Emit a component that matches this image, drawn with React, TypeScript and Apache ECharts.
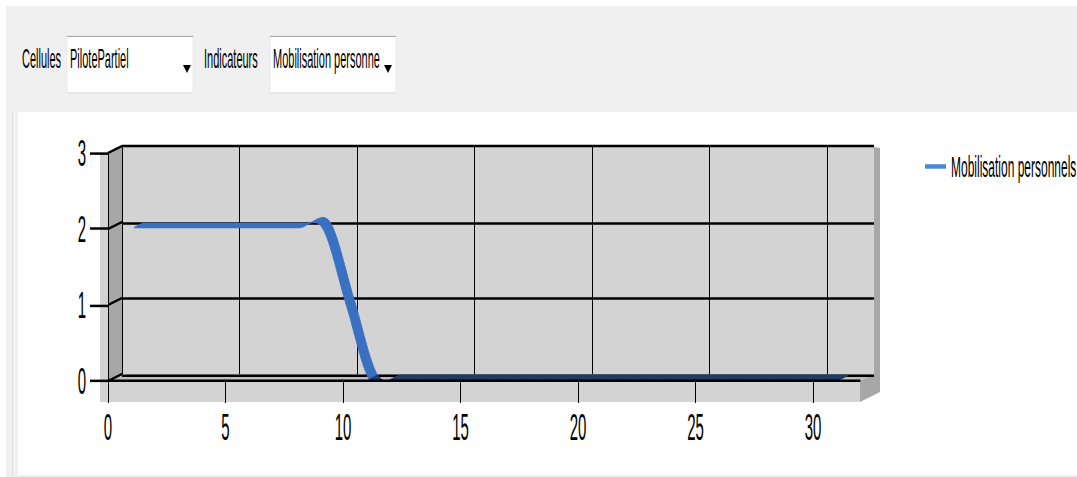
import React, { useEffect, useRef } from 'react';
import * as echarts from 'echarts';

// The reference is vertically stretched: the chart is drawn at a base height
// and scaled on Y so text and horizontal strokes match.
const BASE_H = 191;
const S = 477 / BASE_H;
const yb = (v: number) => v / S;
const FONT = '"Liberation Sans", Arial, sans-serif';

// ---- data ----
const dayNumbers = [1, 2, 3, 4, 5, 6, 7, 8, 9, 10, 11, 12, 13, 14, 15, 16, 17, 18, 19, 20, 21, 22, 23, 24, 25, 26, 27, 28, 29, 30, 31];
const mobilisation = [2, 2, 2, 2, 2, 2, 2, 2, 2, 1, 0, 0, 0, 0, 0, 0, 0, 0, 0, 0, 0, 0, 0, 0, 0, 0, 0, 0, 0, 0, 0];
const xTickValues = [0, 5, 10, 15, 20, 25, 30];
const yTickValues = [0, 1, 2, 3];
const X_MIN = 0;
const X_MAX = 32;
const Y_MIN = 0;
const Y_MAX = 3;
const seriesName = 'Mobilisation personnels';
const cellulesLabel = 'Cellules';
const cellulesValue = 'PilotePartiel';
const indicateursLabel = 'Indicateurs';
const indicateursValue = 'Mobilisation personne';

// ---- layout (actual pixels) ----
const FRONT_LEFT = 108;
const FRONT_W = 752;
const FRONT_TOP = 153;
const FRONT_BOTTOM = 381;
const DEPTH_X = 14;
const DEPTH_Y = 7;
const yFront = (v: number) => FRONT_BOTTOM - ((v - Y_MIN) / (Y_MAX - Y_MIN)) * (FRONT_BOTTOM - FRONT_TOP);

const LINE_COLOR = '#3a70c2';
const FLOOR_LINE_COLOR = '#1f3c66';
const LEGEND_COLOR = '#4a86e0';
const RIBBON_T1 = 0.2;
const RIBBON_T2 = 0.8;
const STEPS = 12;

const pts = (arr: number[][]) => arr.map(([x, y]) => [x, yb(y)]);

function renderRibbon(params: any, api: any) {
  const n = params.dataInsideLength;
  const i = params.dataIndexInside;
  if (i >= n - 1) return null;
  const pt = (j: number) => {
    const k = Math.max(0, Math.min(n - 1, j));
    return api.coord([api.value(0, k), api.value(1, k)]);
  };
  const p0 = pt(i - 1);
  const p1 = pt(i);
  const p2 = pt(i + 1);
  const p3 = pt(i + 2);
  const m1 = [(p2[0] - p0[0]) / 2, (p2[1] - p0[1]) / 2];
  const m2 = [(p3[0] - p1[0]) / 2, (p3[1] - p1[1]) / 2];
  const curve: number[][] = [];
  for (let s = 0; s <= STEPS; s++) {
    const t = s / STEPS;
    const t2 = t * t;
    const t3 = t2 * t;
    const h00 = 2 * t3 - 3 * t2 + 1;
    const h10 = t3 - 2 * t2 + t;
    const h01 = -2 * t3 + 3 * t2;
    const h11 = t3 - t2;
    curve.push([
      h00 * p1[0] + h10 * m1[0] + h01 * p2[0] + h11 * m2[0],
      h00 * p1[1] + h10 * m1[1] + h01 * p2[1] + h11 * m2[1],
    ]);
  }
  const ax = DEPTH_X * RIBBON_T1;
  const ay = -yb(DEPTH_Y * RIBBON_T1);
  const bx = DEPTH_X * RIBBON_T2;
  const by = -yb(DEPTH_Y * RIBBON_T2);
  const front = curve.map((c) => [c[0] + ax, c[1] + ay]);
  const back = curve.map((c) => [c[0] + bx, c[1] + by]).reverse();
  const onFloor = api.value(1, i) === 0 && api.value(1, i + 1) === 0;
  const color = onFloor ? FLOOR_LINE_COLOR : LINE_COLOR;
  return {
    type: 'polygon',
    shape: { points: front.concat(back) },
    style: { fill: color, stroke: color, lineWidth: 0.6 },
  };
}

function buildGraphic() {
  const els: any[] = [];
  // window frame
  els.push({ type: 'rect', z: 0, silent: true, shape: { x: 6, y: yb(6), width: 12, height: yb(471) }, style: { fill: '#f0f0f0' } });
  els.push({ type: 'line', z: 0, silent: true, shape: { x1: 12.5, y1: yb(6), x2: 12.5, y2: yb(477) }, style: { stroke: '#dedede', lineWidth: 1 } });
  els.push({ type: 'rect', z: 0, silent: true, shape: { x: 6, y: yb(6), width: 1071, height: yb(106) }, style: { fill: '#f0f0f0' } });
  els.push({ type: 'rect', z: 0, silent: true, shape: { x: 6, y: yb(475), width: 1071, height: yb(2) }, style: { fill: '#f0f0f0' } });

  // combo boxes
  const combo = (x: number, w: number, value: string, arrowX: number) => {
    els.push({ type: 'rect', z: 1, silent: true, shape: { x, y: yb(36), width: w, height: yb(57) }, style: { fill: '#ffffff', stroke: '#e2e2e2', lineWidth: 0.6 } });
    els.push({ type: 'line', z: 1, silent: true, shape: { x1: x, y1: yb(36.5), x2: x + w, y2: yb(36.5) }, style: { stroke: '#a9a9a9', lineWidth: 0.5 } });
    els.push({ type: 'text', z: 2, silent: true, x: x + 3, y: yb(58), style: { text: value, fontSize: 11, fontFamily: FONT, fill: '#000', verticalAlign: 'middle', align: 'left' } });
    els.push({ type: 'polygon', z: 2, silent: true, shape: { points: pts([[arrowX - 4, 65], [arrowX + 4, 65], [arrowX, 73]]) }, style: { fill: '#000' } });
  };
  els.push({ type: 'text', z: 2, silent: true, x: 22, y: yb(58), style: { text: cellulesLabel, fontSize: 11, fontFamily: FONT, fill: '#000', verticalAlign: 'middle', align: 'left' } });
  combo(67, 126, cellulesValue, 187);
  els.push({ type: 'text', z: 2, silent: true, x: 204, y: yb(58), style: { text: indicateursLabel, fontSize: 11, fontFamily: FONT, fill: '#000', verticalAlign: 'middle', align: 'left' } });
  combo(270, 126, indicateursValue, 388);

  // 3D plot box
  const backLeft = FRONT_LEFT + DEPTH_X;
  const backRight = FRONT_LEFT + FRONT_W + DEPTH_X;
  const frontRight = FRONT_LEFT + FRONT_W;
  els.push({ type: 'rect', z: 1, silent: true, shape: { x: 100, y: yb(FRONT_TOP), width: frontRight - 100, height: yb(402 - FRONT_TOP) }, style: { fill: '#d3d3d3' } });
  els.push({ type: 'rect', z: 1, silent: true, shape: { x: backLeft, y: yb(FRONT_TOP - DEPTH_Y), width: FRONT_W, height: yb(FRONT_BOTTOM - FRONT_TOP) }, style: { fill: '#d3d3d3' } });
  // left wall
  els.push({ type: 'polygon', z: 1, silent: true, shape: { points: pts([[FRONT_LEFT, FRONT_TOP], [backLeft, FRONT_TOP - DEPTH_Y], [backLeft, FRONT_BOTTOM - DEPTH_Y], [FRONT_LEFT, FRONT_BOTTOM]]) }, style: { fill: '#a7a7a7' } });
  // floor
  els.push({ type: 'polygon', z: 1, silent: true, shape: { points: pts([[FRONT_LEFT, FRONT_BOTTOM], [backLeft, FRONT_BOTTOM - DEPTH_Y], [backRight, FRONT_BOTTOM - DEPTH_Y], [frontRight, FRONT_BOTTOM]]) }, style: { fill: '#bdbdbd' } });
  // right side
  els.push({ type: 'polygon', z: 1, silent: true, shape: { points: pts([[backRight, FRONT_TOP - DEPTH_Y + 1], [backRight + 6, FRONT_TOP - DEPTH_Y + 2], [backRight + 6, 392], [frontRight, 402], [frontRight, FRONT_BOTTOM], [backRight, FRONT_BOTTOM - DEPTH_Y]]) }, style: { fill: '#a7a7a7' } });
  // tick connectors across the left wall
  yTickValues.forEach((v) => {
    els.push({ type: 'line', z: 6, silent: true, shape: { x1: FRONT_LEFT, y1: yb(yFront(v)), x2: backLeft, y2: yb(yFront(v) - DEPTH_Y) }, style: { stroke: '#000', lineWidth: 1 } });
  });
  return els;
}

const axisCommon = { type: 'value' as const };

const option: any = {
  animation: false,
  backgroundColor: '#ffffff',
  textStyle: { fontFamily: FONT },
  grid: [
    { left: FRONT_LEFT, top: yb(FRONT_TOP), width: FRONT_W, height: yb(FRONT_BOTTOM - FRONT_TOP), show: false },
    { left: FRONT_LEFT + DEPTH_X, top: yb(FRONT_TOP - DEPTH_Y), width: FRONT_W, height: yb(FRONT_BOTTOM - FRONT_TOP), show: false },
  ],
  xAxis: [
    {
      ...axisCommon, gridIndex: 0, min: X_MIN, max: X_MAX, interval: 5, z: 5,
      axisLine: { show: true, onZero: false, lineStyle: { color: '#000', width: 1 } },
      axisTick: { show: true, length: yb(22), lineStyle: { color: '#000', width: 1 }, customValues: xTickValues },
      axisLabel: { show: true, margin: 11, fontSize: 15, color: '#000', fontFamily: FONT, customValues: xTickValues },
      splitLine: { show: false },
    },
    {
      ...axisCommon, gridIndex: 1, min: X_MIN, max: X_MAX, interval: 5, z: 2,
      axisLine: { show: false }, axisTick: { show: false }, axisLabel: { show: false },
      splitLine: { show: true, showMaxLine: false, lineStyle: { color: '#000', width: 1 } },
    },
  ],
  yAxis: [
    {
      ...axisCommon, gridIndex: 0, min: Y_MIN, max: Y_MAX, interval: 1, z: 5,
      axisLine: { show: true, onZero: false, lineStyle: { color: '#000', width: 1 } },
      axisTick: { show: true, length: 18, lineStyle: { color: '#000', width: 1 } },
      axisLabel: { show: true, margin: 22, fontSize: 15, color: '#000', fontFamily: FONT },
      splitLine: { show: false },
    },
    {
      ...axisCommon, gridIndex: 1, min: Y_MIN, max: Y_MAX, interval: 1, z: 2,
      axisLine: { show: false }, axisTick: { show: false }, axisLabel: { show: false },
      splitLine: { show: true, lineStyle: { color: '#000', width: 1 } },
    },
  ],
  legend: {
    show: true,
    left: 920,
    top: yb(154) - 6,
    itemWidth: 21,
    itemHeight: yb(4.5),
    selectedMode: false,
    textStyle: { fontSize: 12, fontFamily: FONT, color: '#000' },
    data: [{ name: seriesName, icon: 'rect', itemStyle: { color: LEGEND_COLOR } }],
  },
  series: [
    {
      type: 'custom',
      name: seriesName,
      coordinateSystem: 'cartesian2d',
      xAxisIndex: 0,
      yAxisIndex: 0,
      z: 3,
      clip: true,
      silent: true,
      itemStyle: { color: LINE_COLOR },
      encode: { x: 0, y: 1 },
      data: dayNumbers.map((d, i) => [d, mobilisation[i]]),
      renderItem: renderRibbon,
    },
  ],
  graphic: { elements: buildGraphic() },
};

export default function App() {
  const ref = useRef<HTMLDivElement>(null);
  useEffect(() => {
    const chart = echarts.init(ref.current!, null, { renderer: 'svg' });
    chart.setOption(option);
    return () => chart.dispose();
  }, []);
  return (
    <div
      ref={ref}
      style={{
        position: 'fixed',
        left: 0,
        top: 0,
        width: 1077,
        height: BASE_H,
        transform: `scaleY(${S})`,
        transformOrigin: '0 0',
      }}
    />
  );
}
